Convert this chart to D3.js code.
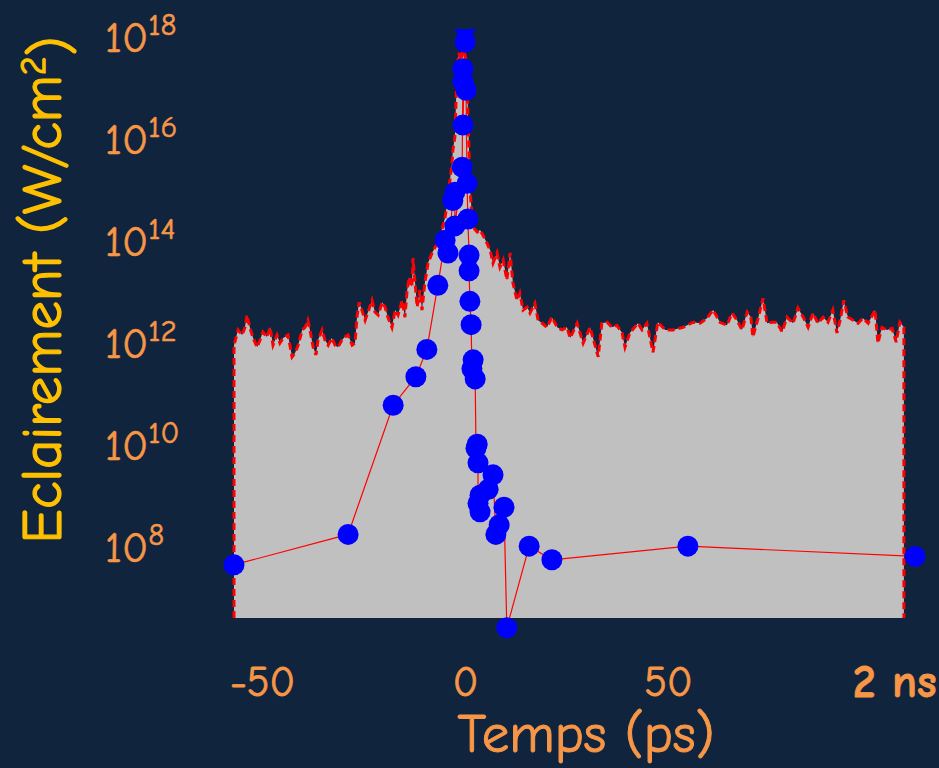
<!DOCTYPE html>
<html>
<head>
<meta charset="utf-8">
<script src="https://cdn.jsdelivr.net/npm/d3@7"></script>
<style>
  html, body { margin: 0; padding: 0; background: #10243e; }
  svg { display: block; }
</style>
</head>
<body>
<svg id="chart" width="939" height="768"></svg>
<script>
// ---------------- DATA ----------------
// Time axis ticks (ps); the last one stands for 2 ns (broken axis)
const xTickValues = [-50, 0, 50, 2000];
const xTickLabels = ["-50", "0", "50", "2 ns"];
// Y axis ticks: powers of ten (W/cm²)
const yTickExponents = [8, 10, 12, 14, 16, 18];

// Measured trace (grey area): time (ps) and log10 of intensity (W/cm²)
const traceTime = [
  -56.9, -55.9, -54.9, -54.2, -53.7, -53.0, -52.2, -51.2, -50.5, -49.8,
  -48.8, -48.0, -47.3, -46.3, -45.6, -44.8, -43.6, -42.6, -41.9, -41.1,
  -40.1, -39.4, -38.7, -38.2, -37.4, -36.7, -36.2, -35.2, -34.5, -33.7,
  -32.8, -32.0, -31.3, -30.3, -29.6, -28.8, -27.8, -27.1, -26.6, -26.1,
  -25.4, -24.6, -23.9, -22.9, -22.2, -21.4, -20.4, -19.7, -19.0, -18.0,
  -17.2, -16.5, -15.5, -14.8, -14.3, -13.8, -13.1, -12.8, -12.3, -11.8,
  -11.1, -10.6, -9.9, -9.1, -8.1, -7.4, -6.7, -5.7, -4.9, -4.2,
  -3.7, -3.2, -3.0, -2.5, -2.2, -2.0, -1.5, -1.0, -0.5, 0.0,
  0.5, 0.7, 1.0, 1.2, 1.7, 2.0, 3.0, 3.7, 4.4, 5.4,
  6.2, 6.9, 7.9, 8.6, 9.4, 10.3, 11.1, 11.8, 12.8, 13.5,
  14.3, 15.3, 16.0, 17.2, 18.0, 19.0, 20.2, 21.4, 22.7, 23.9,
  25.1, 25.9, 27.6, 29.1, 30.8, 32.8, 33.7, 35.0, 36.2, 37.4,
  38.7, 39.4, 40.6, 42.6, 43.6, 44.8, 46.3, 47.5, 49.3, 51.2,
  53.7, 56.2, 57.9, 59.6, 61.1, 62.8, 64.5, 65.8, 67.0, 68.2,
  69.5, 70.4, 70.9, 72.2, 73.4, 74.4, 75.6, 76.8, 78.1, 79.3,
  80.8, 82.0, 83.3, 84.5, 85.7, 86.9, 88.2, 89.4, 90.6, 91.6,
  92.4, 93.3, 94.3, 95.6, 96.8, 98.0, 99.3, 101.0, 101.7, 102.7,
  103.9, 105.2, 106.2, 107.1, 108.1
];
const traceLog10 = [
  11.94, 12.24, 12.14, 12.29, 12.53, 12.29, 12.08, 11.90, 12.04, 12.20,
  12.10, 12.29, 11.94, 12.14, 11.98, 12.08, 12.14, 11.71, 11.78, 11.94,
  12.24, 12.29, 12.43, 12.24, 11.90, 11.75, 12.04, 12.24, 12.04, 11.94,
  12.08, 11.94, 11.90, 12.04, 12.10, 12.14, 11.94, 11.98, 12.49, 12.78,
  12.63, 12.43, 12.59, 12.82, 12.59, 12.53, 12.78, 12.69, 12.49, 12.29,
  12.63, 12.53, 12.82, 12.49, 12.98, 13.27, 13.08, 13.65, 13.16, 12.69,
  13.02, 12.63, 13.16, 13.55, 13.75, 13.86, 13.94, 14.20, 14.45, 14.84,
  15.18, 15.51, 15.76, 16.02, 16.75, 17.33, 17.67, 17.53, 17.73, 17.63,
  17.43, 16.55, 15.76, 15.04, 14.49, 14.25, 14.16, 14.20, 14.10, 13.94,
  13.80, 13.55, 13.75, 13.47, 13.61, 13.22, 13.75, 13.16, 12.82, 12.96,
  12.63, 12.69, 12.57, 12.76, 12.43, 12.37, 12.29, 12.49, 12.29, 12.24,
  12.29, 12.08, 12.37, 11.98, 12.29, 11.71, 12.37, 12.39, 12.29, 12.33,
  12.18, 11.90, 12.18, 12.37, 12.24, 12.37, 11.80, 12.39, 12.24, 12.24,
  12.29, 12.39, 12.37, 12.47, 12.63, 12.39, 12.33, 12.57, 12.43, 12.24,
  12.59, 12.49, 12.10, 12.47, 12.86, 12.37, 12.39, 12.39, 12.20, 12.49,
  12.37, 12.67, 12.49, 12.29, 12.57, 12.37, 12.49, 12.39, 12.63, 12.18,
  12.43, 12.82, 12.49, 12.43, 12.37, 12.47, 12.37, 12.63, 11.98, 12.29,
  12.24, 12.27, 12.00, 12.39, 12.29
];

// Points (blue dots): time (ps) and intensity (W/cm²)
const pulseTime = [
  -56.9, -28.8, -17.7, -12.1, -9.4, -6.7, -4.9, -4.2, -3.0, -2.5,
  -2.5, -0.7, -0.5, -0.5, -0.5, 0.0, 0.0, 0.25, 0.5, 0.7, 1.0,
  1.0, 1.2, 1.5, 1.7, 2.0, 2.5, 2.7, 3.0, 3.2, 3.2,
  3.7, 3.7, 5.7, 6.9, 7.6, 8.4, 9.6, 10.3, 15.8, 21.4,
  54.9, 2000
];
const pulseIntensity = [
  4.3e7, 1.7e8, 5.8e10, 2.1e11, 7.2e11, 1.3e13, 1.0e14, 5.6e13, 6.0e14, 8.7e14,
  1.9e14, 2.7e15, 2.3e17, 1.3e17, 1.8e16, 1.5e18, 7.6e17, 8.7e16, 1.3e15, 2.6e14, 5.1e13,
  2.5e13, 6.3e12, 2.2e12, 3.0e11, 4.5e11, 1.9e11, 8.3e9, 1.0e10, 4.3e9, 6.9e8,
  1.0e9, 4.7e8, 1.3e9, 2.5e9, 1.7e8, 2.6e8, 5.8e8, 2.5e6, 1.0e8, 5.4e7,
  1.0e8, 6.3e7
];

// ---------------- CHART ----------------
const FONT = "'Comic Sans MS', 'Comic Neue', Lato, 'Open Sans', sans-serif";
const C_BG = "#10243e", C_TICK = "#f79646", C_YTITLE = "#ffc000";

const svg = d3.select("#chart");
svg.append("rect").attr("width", 939).attr("height", 768).attr("fill", C_BG);

const plotTop = 29, plotBottom = 618;
// broken time axis: linear in ps, then a short jump to 2 ns
const x = d3.scaleLinear().domain([-57, 108.1, 2000]).range([233.6, 903.9, 915]);
const y = d3.scaleLog().domain([3.9e6, 1.38e18]).range([plotBottom, plotTop]);
const yBase = y.domain()[0];

const trace = traceTime.map((t, i) => ({ t, v: Math.pow(10, traceLog10[i]) }));
const pulse = pulseTime.map((t, i) => ({ t, v: pulseIntensity[i] }));

// grey area
svg.append("path")
  .datum(trace)
  .attr("fill", "#c0c0c0")
  .attr("d", d3.area().x(d => x(d.t)).y0(y(yBase)).y1(d => y(d.v)));

// red dashed outline (incl. vertical edges)
const outline = [{ t: trace[0].t, v: yBase }, ...trace, { t: trace[trace.length - 1].t, v: yBase }];
svg.append("path")
  .datum(outline)
  .attr("fill", "none")
  .attr("stroke", "#ff0000")
  .attr("stroke-width", 3)
  .attr("stroke-dasharray", "7,4")
  .attr("d", d3.line().x(d => x(d.t)).y(d => y(d.v)));

// clip for dots (top of plot)
svg.append("clipPath").attr("id", "topclip")
  .append("rect").attr("x", 0).attr("y", plotTop).attr("width", 939).attr("height", 768);

const g = svg.append("g").attr("clip-path", "url(#topclip)");
g.append("path")
  .datum(pulse)
  .attr("fill", "none")
  .attr("stroke", "#ff0000")
  .attr("stroke-width", 1.2)
  .attr("d", d3.line().x(d => x(d.t)).y(d => y(d.v)));
g.selectAll("circle")
  .data(pulse)
  .join("circle")
  .attr("cx", d => x(d.t))
  .attr("cy", d => y(d.v))
  .attr("r", 10.5)
  .attr("fill", "#0000ff");

// helper to thicken thin fallback fonts
function thick(sel, color, w) {
  sel.attr("stroke", color).attr("stroke-width", w).attr("stroke-linejoin", "round");
}

// X axis
const xAxis = d3.axisBottom(x)
  .tickValues(xTickValues)
  .tickFormat((d, i) => xTickLabels[i])
  .tickSize(0)
  .tickPadding(48);
const gx = svg.append("g").attr("transform", `translate(0,${plotBottom})`).call(xAxis);
gx.select(".domain").remove();
gx.selectAll("text")
  .attr("fill", C_TICK)
  .style("font-family", FONT)
  .style("font-size", "42px")
  .call(thick, C_TICK, 0.8);
gx.selectAll(".tick").filter(d => d === 2000).select("text")
  .style("font-weight", "bold")
  .style("font-size", "46px")
  .attr("text-anchor", "end")
  .attr("dx", 21)
  .attr("dy", "0.68em");

// Y axis
const yAxis = d3.axisLeft(y)
  .tickValues(yTickExponents.map(e => Math.pow(10, e)))
  .tickSize(0)
  .tickPadding(0);
const gy = svg.append("g").attr("transform", "translate(105,0)").call(yAxis);
gy.select(".domain").remove();
gy.selectAll(".tick text").each(function (d) {
  const t = d3.select(this);
  const e = Math.round(Math.log10(d));
  t.text(null)
    .attr("x", 0)
    .attr("dy", "0.36em")
    .attr("text-anchor", "start")
    .attr("fill", C_TICK)
    .style("font-family", FONT)
    .style("font-size", "43px")
    .call(thick, C_TICK, 0.6);
  t.append("tspan").text("10");
  t.append("tspan").attr("dy", "-0.55em").style("font-size", "31px").text(e);
});

// Axis titles
svg.append("text")
  .attr("x", 586).attr("y", 752)
  .attr("text-anchor", "middle")
  .attr("fill", C_TICK)
  .style("font-family", FONT)
  .style("font-size", "55px")
  .call(thick, C_TICK, 1)
  .text("Temps (ps)");

const yt = svg.append("text")
  .attr("transform", "translate(61,290) rotate(-90)")
  .attr("text-anchor", "middle")
  .attr("fill", C_YTITLE)
  .style("font-family", FONT)
  .style("font-size", "57px")
  .call(thick, C_YTITLE, 1.2);
yt.append("tspan").text("Eclairement (W/cm");
yt.append("tspan").attr("dy", "-0.45em").style("font-size", "36px").text("2");
yt.append("tspan").attr("dy", "0.45em").text(")");
</script>
</body>
</html>
